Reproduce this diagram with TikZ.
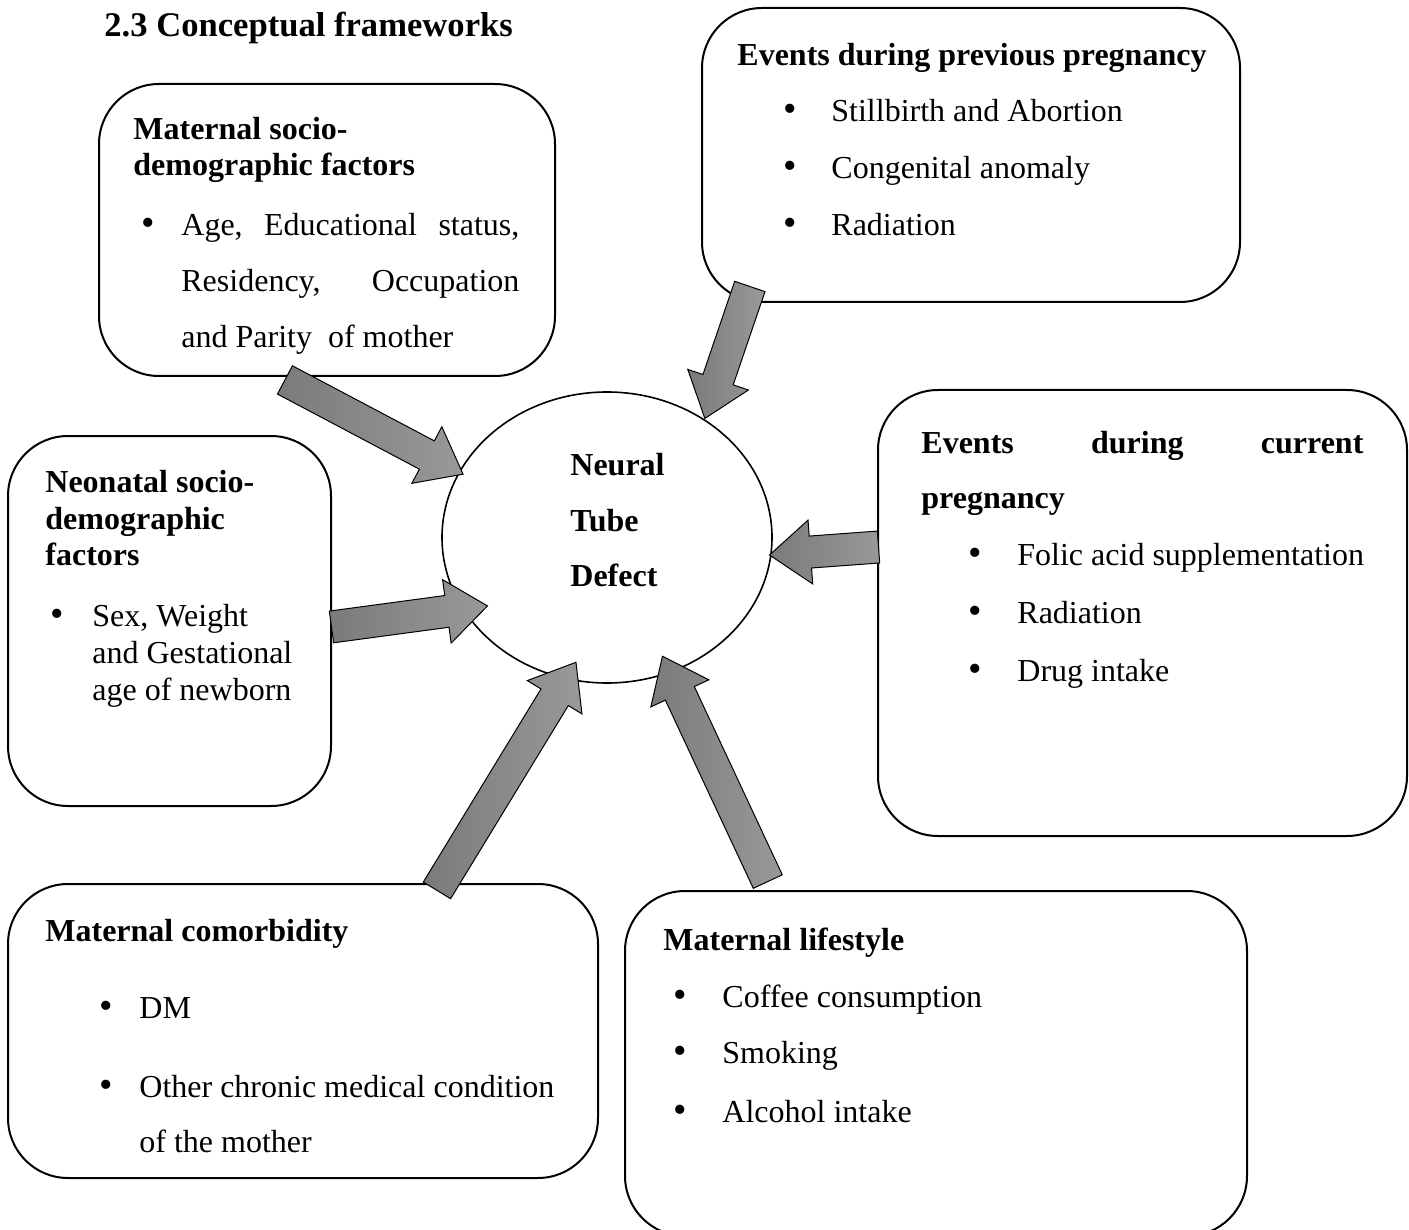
\documentclass[tikz,border=0pt]{standalone}
\usepackage{fontspec}
\setmainfont{Liberation Serif}
\usetikzlibrary{shapes.geometric,shapes.arrows,calc}
\newcommand\blockarrow[3]{%
  \path let \p1=($(#3)-(#2)$), \n1={atan2(\y1,\x1)}, \n2={veclen(\x1,\y1)} in
    node[barrow, rotate=\n1, minimum height=\n2, anchor=tail] (#1) at (#2) {};
}
\newcommand\bul{\scalebox{1.2}{•}}
\begin{document}
\begin{tikzpicture}[x=0.5pt,y=-0.5pt,
  box/.style={draw, line width=1pt, rounded corners=30pt, inner sep=0pt},
  txt/.style={anchor=base west, inner sep=0pt, yshift=-1pt, font=\fontsize{16}{19}\selectfont},
  btxt/.style={anchor=base west, inner sep=0pt, yshift=-1pt, font=\fontsize{16}{19}\selectfont\bfseries},
  barrow/.style={single arrow, draw=black, line width=0.5pt,
    left color=black!52, right color=black!40,
    inner xsep=0pt, inner ysep=7.75pt, single arrow head extend=8pt,
    single arrow tip angle=76, minimum width=0pt}]
\useasboundingbox (0,0) rectangle (1409,1230);

% boxes
\node[box, minimum width=228pt, minimum height=146pt] (b1) at (327,230) {};
\node[box, minimum width=269pt, minimum height=147pt] (b2) at (971,155) {};
\node[box, minimum width=264.5pt, minimum height=223pt] (b3) at (1142.5,613) {};
\node[box, minimum width=161.5pt, minimum height=185pt] (b4) at (169.5,621) {};
\node[box, minimum width=295pt, minimum height=147pt] (b5) at (303,1031) {};
\node[box, minimum width=311pt, minimum height=172.5pt] (b6) at (936,1063.5) {};
\node[draw, ellipse, line width=0.8pt, inner sep=0pt, minimum width=165pt, minimum height=145.5pt] (ntd) at (607,537.5) {};

% title
\node[anchor=base west, inner sep=0pt, yshift=-1pt, font=\fontsize{17.3}{20}\selectfont\bfseries] (title) at (104,35) {2.3 Conceptual frameworks};

% box 1
\node[btxt] (b1h1) at (133,138) {Maternal socio-};
\node[btxt] (b1h2) at (133,174) {demographic factors};
\node[txt] (b1u1) at (141,234) {\bul};
\node[txt] (b1l1) at (181,234) {\hbox to 169pt{Age,\hfill Educational\hfill status,}};
\node[txt] (b1l2) at (181,290) {\hbox to 169pt{Residency,\hfill Occupation}};
\node[txt] (b1l3) at (181,346) {and Parity\ \ of mother};

% box 2
\node[btxt] (b2h1) at (737,64) {Events during previous pregnancy};
\node[txt] (b2u1) at (783,120) {\bul};
\node[txt] (b2u2) at (783,177) {\bul};
\node[txt] (b2u3) at (783,234) {\bul};
\node[txt] (b2l1) at (831,120) {Stillbirth and Abortion};
\node[txt] (b2l2) at (831,177) {Congenital anomaly};
\node[txt] (b2l3) at (831,234) {Radiation};

% box 3
\node[btxt] (b3h1) at (921,451) {\hbox to 221pt{Events\hfill during\hfill current}};
\node[btxt] (b3h2) at (921,506) {pregnancy};
\node[txt] (b3u1) at (968,563) {\bul};
\node[txt] (b3u2) at (968,621) {\bul};
\node[txt] (b3u3) at (968,679) {\bul};
\node[txt] (b3l1) at (1017,563) {Folic acid supplementation};
\node[txt] (b3l2) at (1017,621) {Radiation};
\node[txt] (b3l3) at (1017,679) {Drug intake};

% box 4
\node[btxt] (b4h1) at (45,490) {Neonatal socio-};
\node[btxt] (b4h2) at (45,527) {demographic};
\node[btxt] (b4h3) at (45,563) {factors};
\node[txt] (b4u1) at (50,624) {\bul};
\node[txt] (b4l1) at (92,624) {Sex, Weight};
\node[txt] (b4l2) at (92,661) {and Gestational};
\node[txt] (b4l3) at (92,698) {age of newborn};

% ellipse text
\node[btxt] (e1) at (570,473) {Neural};
\node[btxt] (e2) at (570,529) {Tube};
\node[btxt] (e3) at (570,584) {Defect};

% box 5
\node[btxt] (b5h1) at (45,939) {Maternal comorbidity};
\node[txt] (b5u1) at (99,1016) {\bul};
\node[txt] (b5u2) at (99,1095) {\bul};
\node[txt] (b5l1) at (139,1016) {DM};
\node[txt] (b5l2) at (139,1095) {Other chronic medical condition};
\node[txt] (b5l3) at (139,1150) {of the mother};

% box 6
\node[btxt] (b6h1) at (663,948) {Maternal lifestyle};
\node[txt] (b6u1) at (673,1005) {\bul};
\node[txt] (b6u2) at (673,1061) {\bul};
\node[txt] (b6u3) at (673,1120) {\bul};
\node[txt] (b6l1) at (722,1005) {Coffee consumption};
\node[txt] (b6l2) at (722,1061) {Smoking};
\node[txt] (b6l3) at (722,1120) {Alcohol intake};

% arrow end points
\coordinate (a1t) at (284.5,379.7); \coordinate (a1h) at (462.7,474);
\coordinate (a2t) at (750,286);     \coordinate (a2h) at (705,418);
\coordinate (a3t) at (879,547);     \coordinate (a3h) at (770,555);
\coordinate (a4t) at (331,627);     \coordinate (a4h) at (487,606);
\coordinate (a5t) at (436.7,890.8); \coordinate (a5h) at (575.7,662.7);
\coordinate (a6t) at (768,882);     \coordinate (a6h) at (662.7,656.7);

\blockarrow{ar1}{a1t}{a1h}
\blockarrow{ar2}{a2t}{a2h}
\blockarrow{ar3}{a3t}{a3h}
\blockarrow{ar4}{a4t}{a4h}
\blockarrow{ar5}{a5t}{a5h}
\blockarrow{ar6}{a6t}{a6h}
\end{tikzpicture}
\end{document}
